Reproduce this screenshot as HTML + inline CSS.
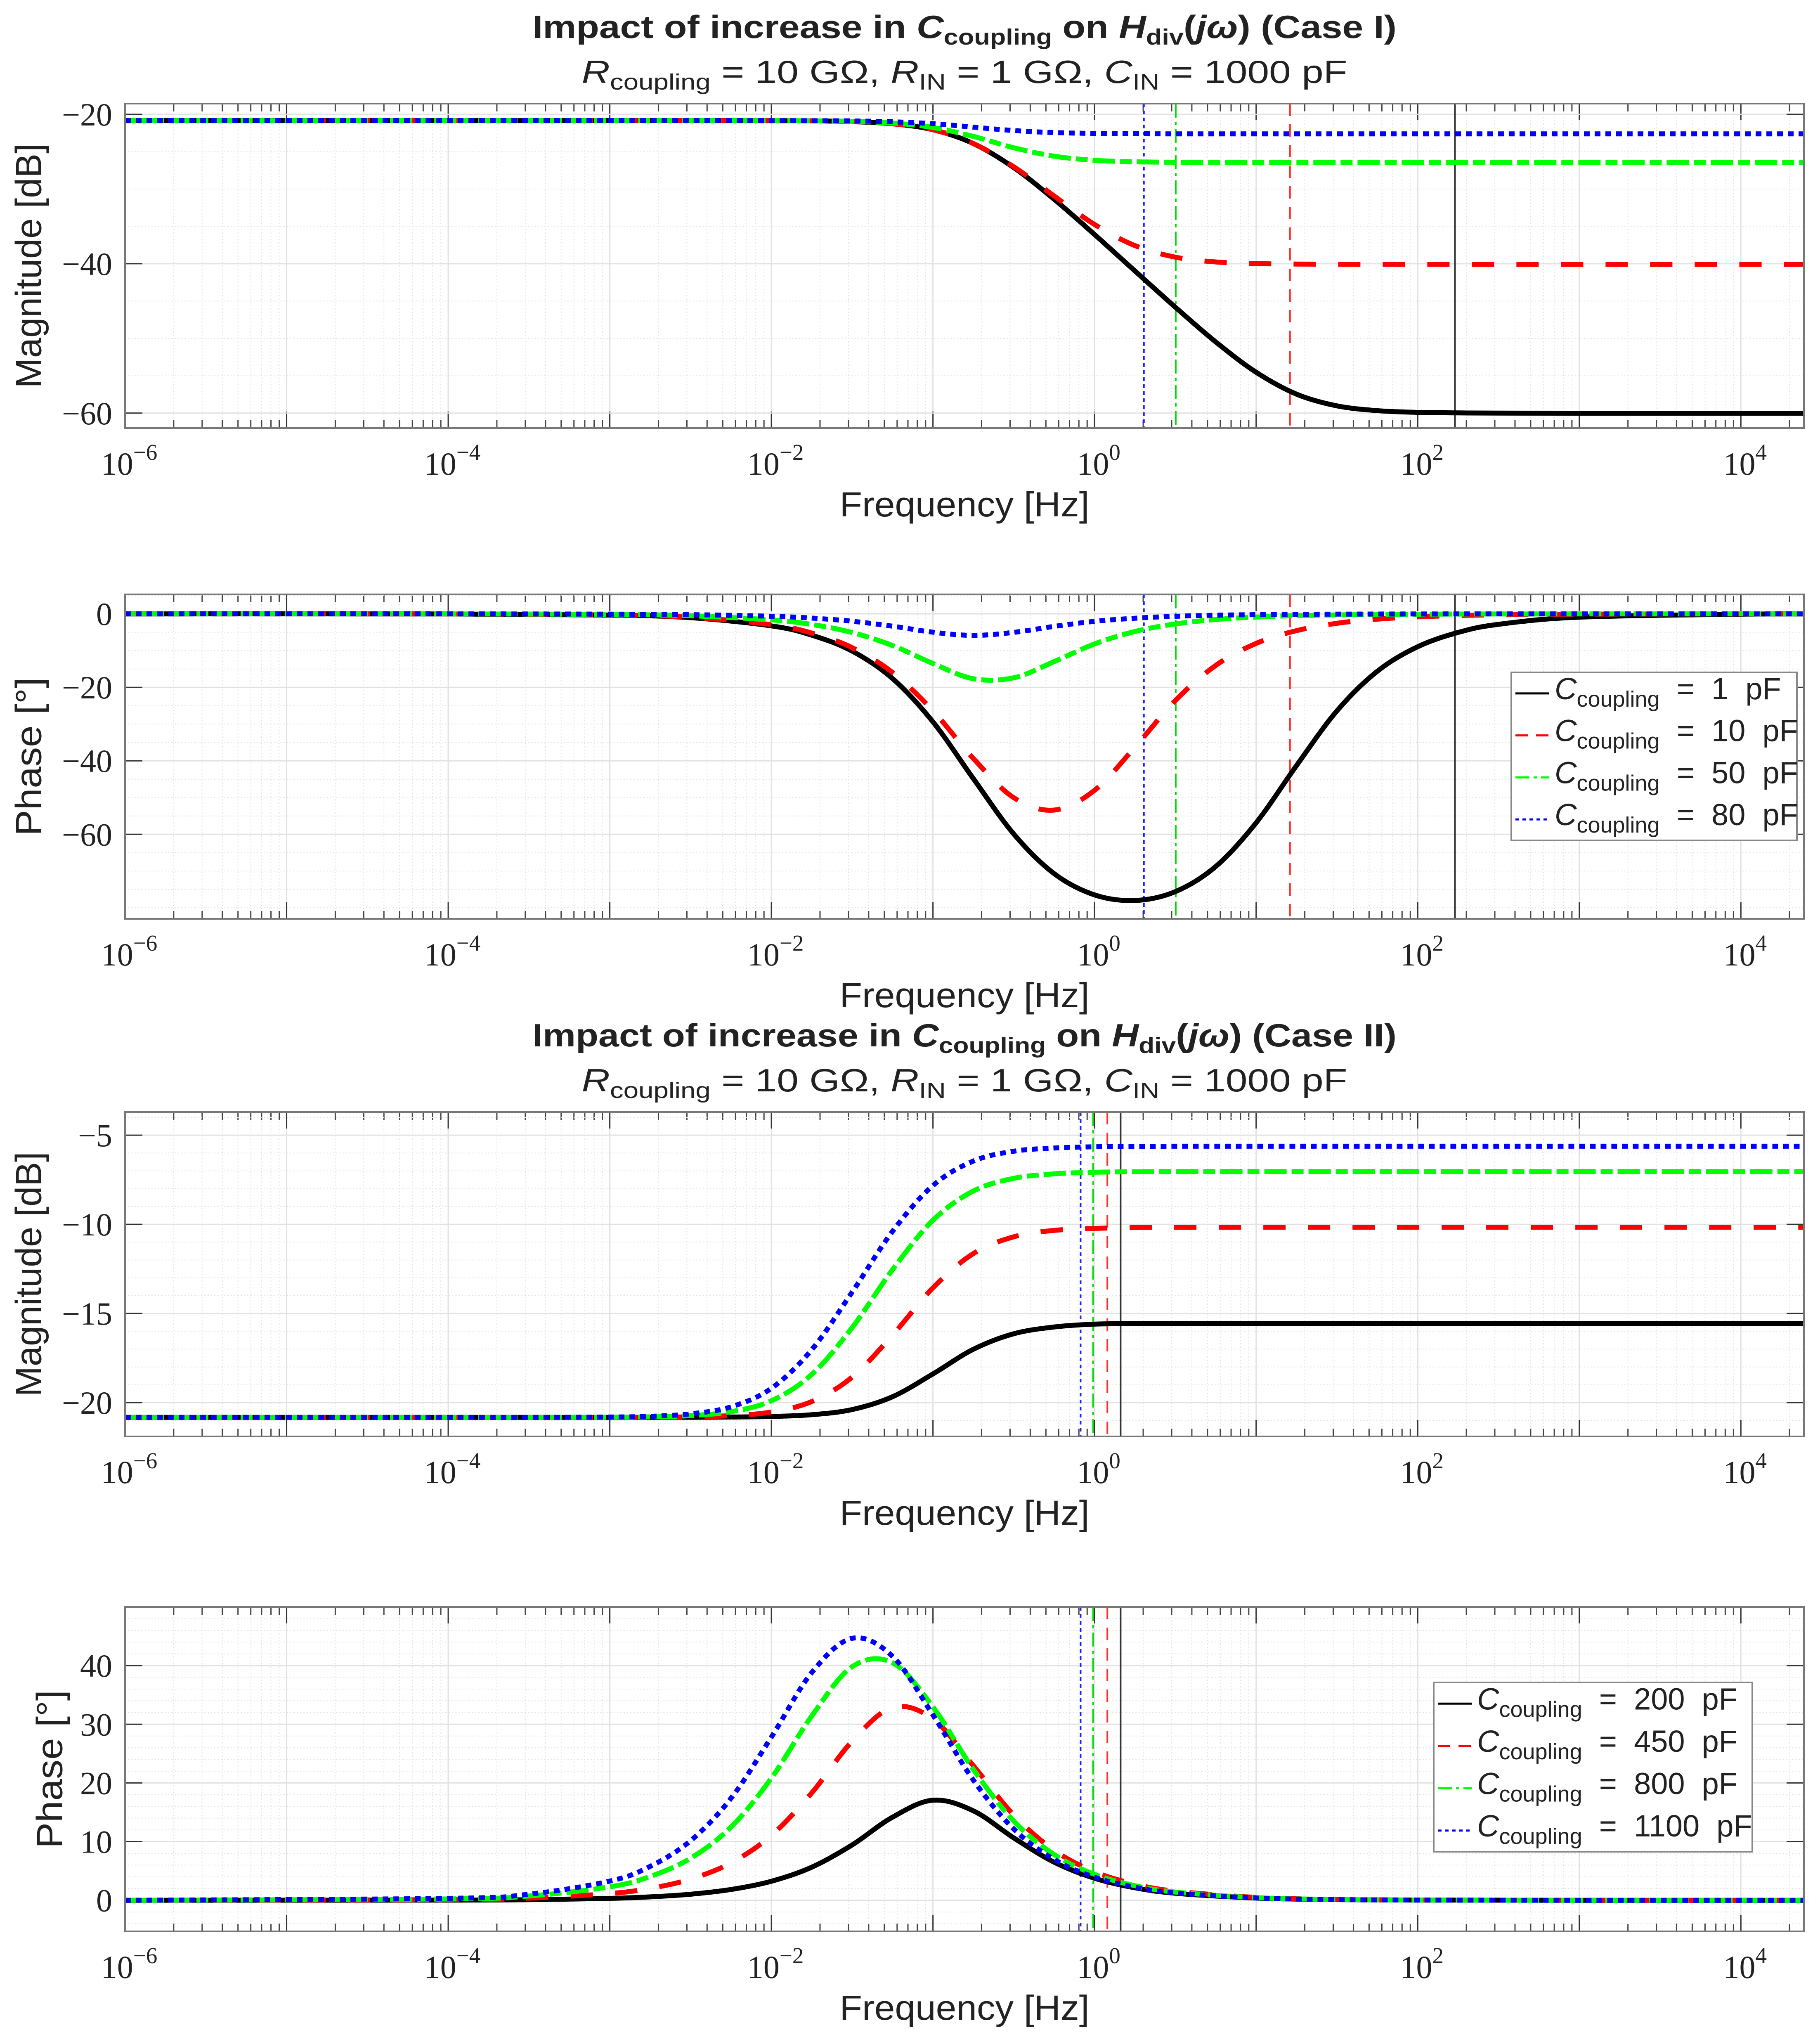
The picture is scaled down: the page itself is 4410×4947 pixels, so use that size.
<!DOCTYPE html>
<html><head><meta charset="utf-8">
<style>
html,body{margin:0;padding:0;background:#fff;}
svg{display:block;}
</style></head>
<body>
<svg id="fig" xmlns="http://www.w3.org/2000/svg" width="4410" height="4947" viewBox="0 0 4410 4947"></svg>
<script>
// ---------- DATA ----------
const LOGF_I = [-6,-4,-3,-2.5,-2,-1.75,-1.5,-1.25,-1,-0.75,-0.5,-0.25,0,0.25,0.5,0.75,1,1.25,1.5,1.75,2,2.25,2.5,3,4,4.39];
const MAG_I_1 = [-20.83,-20.83,-20.83,-20.83,-20.84,-20.87,-20.97,-21.26,-22.06,-23.91,-27.13,-31.37,-36.09,-40.97,-45.82,-50.47,-54.53,-57.46,-59.03,-59.67,-59.90,-59.97,-60.00,-60.01,-60.01,-60.01];
const MAG_I_10 = [-20.83,-20.83,-20.83,-20.83,-20.84,-20.87,-20.97,-21.26,-22.06,-23.90,-27.02,-30.93,-34.74,-37.57,-39.12,-39.76,-39.98,-40.04,-40.07,-40.08,-40.08,-40.09,-40.09,-40.09,-40.09,-40.09];
const MAG_I_50 = [-20.83,-20.83,-20.83,-20.83,-20.84,-20.87,-20.94,-21.16,-21.76,-22.95,-24.47,-25.60,-26.15,-26.35,-26.41,-26.44,-26.45,-26.45,-26.45,-26.45,-26.45,-26.45,-26.45,-26.45,-26.45,-26.45];
const MAG_I_80 = [-20.83,-20.83,-20.83,-20.83,-20.84,-20.85,-20.88,-20.99,-21.25,-21.71,-22.17,-22.44,-22.55,-22.59,-22.61,-22.61,-22.61,-22.61,-22.61,-22.61,-22.61,-22.61,-22.61,-22.61,-22.61,-22.61];
const PH_I_1 = [0,-0.03,-0.33,-1.04,-3.27,-5.81,-10.14,-17.62,-29.40,-44.84,-59.91,-70.70,-76.48,-78.0,-75.6,-68.76,-56.86,-41.28,-26.4,-15.62,-8.94,-5.06,-2.85,-0.9,-0.09,-0.04];
const PH_I_10 = [0,-0.03,-0.29,-0.93,-2.94,-5.21,-9.2,-15.95,-26.38,-39.35,-50.03,-53.40,-48.02,-36.27,-23.58,-14.03,-8.04,-4.56,-2.56,-1.44,-0.81,-0.46,-0.26,-0.08,-0.01,0];
const PH_I_50 = [0,-0.01,-0.16,-0.52,-1.63,-2.89,-5.07,-8.62,-13.51,-17.65,-17.39,-12.99,-8.18,-4.79,-2.73,-1.54,-0.87,-0.49,-0.28,-0.16,-0.09,-0.05,-0.03,-0.01,0,0];
const PH_I_80 = [0,0,-0.07,-0.21,-0.65,-1.15,-2.01,-3.35,-4.99,-5.86,-5.03,-3.41,-2.04,-1.18,-0.66,-0.37,-0.21,-0.12,-0.07,-0.04,-0.02,-0.01,0,0,0,0];
const VLINE_I = [170, 16.2, 3.18, 2.02];

const LOGF_II = [-6,-4,-3.5,-3,-2.75,-2.5,-2.25,-2,-1.75,-1.5,-1.25,-1,-0.75,-0.5,-0.25,0,0.25,0.5,1,1.5,2,3,4.39];
const MAG_II_200 = [-20.83,-20.83,-20.83,-20.83,-20.83,-20.825,-20.81,-20.78,-20.68,-20.39,-19.67,-18.39,-17.01,-16.14,-15.76,-15.60,-15.57,-15.56,-15.56,-15.56,-15.56,-15.56,-15.56];
const MAG_II_450 = [-20.83,-20.83,-20.83,-20.83,-20.82,-20.80,-20.73,-20.53,-19.94,-18.57,-16.21,-13.56,-11.64,-10.70,-10.34,-10.23,-10.18,-10.17,-10.16,-10.16,-10.16,-10.16,-10.16];
const MAG_II_800 = [-20.83,-20.83,-20.83,-20.82,-20.80,-20.73,-20.51,-19.90,-18.42,-15.79,-12.54,-9.77,-8.13,-7.42,-7.17,-7.08,-7.05,-7.04,-7.04,-7.04,-7.04,-7.04,-7.04];
const MAG_II_1100 = [-20.83,-20.83,-20.83,-20.81,-20.77,-20.63,-20.24,-19.20,-17.03,-13.80,-10.39,-7.82,-6.45,-5.90,-5.72,-5.65,-5.63,-5.62,-5.62,-5.62,-5.62,-5.62,-5.62];
const PH_II_200 = [0,0.03,0.10,0.33,0.58,1.03,1.84,3.24,5.64,9.44,14.17,17.06,15.25,10.63,6.49,3.75,2.13,1.2,0.38,0.12,0.04,0,0];
const PH_II_450 = [0,0.11,0.36,1.15,2.03,3.61,6.37,11.06,18.31,27.12,32.86,30.89,22.94,14.52,8.52,4.86,2.75,1.55,0.49,0.16,0.05,0,0];
const PH_II_800 = [0,0.23,0.73,2.29,4.06,7.17,12.47,20.82,31.42,39.82,40.48,32.96,22.30,13.50,7.79,4.42,2.49,1.40,0.44,0.14,0.04,0,0];
const PH_II_1100 = [0,0.33,1.04,3.27,5.78,10.16,17.38,27.81,38.82,44.65,41.57,31.58,20.48,12.15,6.96,3.93,2.22,1.25,0.39,0.12,0.04,0,0];
const VLINE_II = [1.45, 1.2, 0.98, 0.82];

const LEGEND_I = ["1", "10", "50", "80"];
const LEGEND_II = ["200", "450", "800", "1100"];
const X_TICK_EXP = [-6,-4,-2,0,2,4];

// ---------- LAYOUT ----------
const NS = "http://www.w3.org/2000/svg";
const svg = document.getElementById("fig");
const L = 303, R = 4371, H = 786;
const XMIN = -6, XMAX = 4.39;
const STYLES = [
  {c:"#000000", dash:null, vdash:null, vc:"#333333"},
  {c:"#ff0000", dash:"54 54", vdash:"30 20", vc:"#ff3030"},
  {c:"#00ff00", dash:"54 12 29 12", vdash:"34 10 8 10", vc:"#00dd00"},
  {c:"#0000ff", dash:"14 12", vdash:"9 8", vc:"#2020ff"}
];
const SERIES_NAMES = ["black","red","green","blue"];

function el(tag, attrs, parent) {
  const e = document.createElementNS(NS, tag);
  for (const k in attrs) e.setAttribute(k, attrs[k]);
  (parent || svg).appendChild(e);
  return e;
}
function xScale(f) { return L + (Math.log10(f) - XMIN) / (XMAX - XMIN) * (R - L); }
function xLog(lg) { return L + (lg - XMIN) / (XMAX - XMIN) * (R - L); }

function smoothPath(pts) {
  let d = "M" + pts[0][0].toFixed(1) + "," + pts[0][1].toFixed(1);
  for (let i = 0; i < pts.length - 1; i++) {
    const p0 = pts[Math.max(0, i - 1)], p1 = pts[i], p2 = pts[i + 1], p3 = pts[Math.min(pts.length - 1, i + 2)];
    const c1x = p1[0] + (p2[0] - p0[0]) / 6, c1y = p1[1] + (p2[1] - p0[1]) / 6;
    const c2x = p2[0] - (p3[0] - p1[0]) / 6, c2y = p2[1] - (p3[1] - p1[1]) / 6;
    d += "C" + c1x.toFixed(1) + "," + c1y.toFixed(1) + " " + c2x.toFixed(1) + "," + c2y.toFixed(1) + " " + p2[0].toFixed(1) + "," + p2[1].toFixed(1);
  }
  return d;
}

function panel(id, top, ymin, ymax, yMajor, yMinor, yTicks, ylabel, ylabelX, ylabelLen, logf, series, vlines) {
  const bottom = top + H;
  const yScale = v => bottom - (v - ymin) / (ymax - ymin) * H;
  const g = el("g", {});
  
  
  el("rect", {x:L, y:top, width:R-L, height:H, fill:"#fff"}, g);
  for (let d = -6; d <= 4; d++) {
    for (let m = 2; m <= 9; m++) {
      const lg = d + Math.log10(m);
      if (lg > XMAX) continue;
      const x = xLog(lg);
      el("line", {x1:x, y1:top, x2:x, y2:bottom, stroke:"#e4e4e4", "stroke-width":2, "stroke-dasharray":"3 5"}, g);
      el("line", {x1:x, y1:top, x2:x, y2:top+19, stroke:"#444", "stroke-width":3}, g);
      el("line", {x1:x, y1:bottom, x2:x, y2:bottom-19, stroke:"#444", "stroke-width":3}, g);
    }
  }
  for (let v = Math.ceil(ymin / yMinor) * yMinor; v <= ymax; v += yMinor) {
    const y = yScale(v);
    el("line", {x1:L, y1:y, x2:R, y2:y, stroke:"#e4e4e4", "stroke-width":2, "stroke-dasharray":"3 5"}, g);
  }
  for (let d = -6; d <= 4; d++) {
    const x = xLog(d);
    el("line", {x1:x, y1:top, x2:x, y2:bottom, stroke:"#e2e2e2", "stroke-width":3}, g);
    el("line", {x1:x, y1:top, x2:x, y2:top+40, stroke:"#333", "stroke-width":3}, g);
    el("line", {x1:x, y1:bottom, x2:x, y2:bottom-40, stroke:"#333", "stroke-width":3}, g);
  }
  yTicks.forEach(v => {
    const y = yScale(v);
    el("line", {x1:L, y1:y, x2:R, y2:y, stroke:"#e2e2e2", "stroke-width":3}, g);
    el("line", {x1:L, y1:y, x2:L+42, y2:y, stroke:"#333", "stroke-width":3}, g);
    el("line", {x1:R, y1:y, x2:R-42, y2:y, stroke:"#333", "stroke-width":3}, g);
    const t = el("text", {x:272, y:y+27, "text-anchor":"end", "font-family":"'Liberation Serif', serif", "font-size":78, fill:"#222"}, g);
    t.textContent = v < 0 ? "\u2212" + Math.abs(v) : String(v);
    
    
  });
  const cp = el("clipPath", {id:"clip-" + id}, g);
  el("rect", {x:L, y:top, width:R-L, height:H}, cp);
  const cg = el("g", {"clip-path":"url(#clip-" + id + ")"}, g);
  vlines.forEach((f, i) => {
    const x = xScale(f);
    const s = STYLES[i];
    const ln = el("line", {x1:x, y1:top, x2:x, y2:bottom, stroke:s.vc, "stroke-width":4}, cg);
    if (s.vdash) ln.setAttribute("stroke-dasharray", s.vdash);
    
    
  });
  series.forEach((vals, i) => {
    const pts = logf.map((lg, k) => [xLog(lg), yScale(vals[k])]);
    const s = STYLES[i];
    const p = el("path", {d:smoothPath(pts), fill:"none", stroke:s.c, "stroke-width":12, "stroke-linejoin":"round"}, cg);
    if (s.dash) p.setAttribute("stroke-dasharray", s.dash);
    
    
  });
  el("rect", {x:L, y:top, width:R-L, height:H, fill:"none", stroke:"#777", "stroke-width":4}, g);
  X_TICK_EXP.forEach(e => {
    const x = xLog(e);
    const t = el("text", {x:x + 10, y:bottom + 113, "text-anchor":"middle", "font-family":"'Liberation Serif', serif", "font-size":78, fill:"#222"}, g);
    
    
    const a = el("tspan", {}, t); a.textContent = "10";
    const b = el("tspan", {"font-size":55, dy:-36}, t); b.textContent = e < 0 ? "\u2212" + Math.abs(e) : String(e);
  });
  const xl = el("text", {x:2337, y:bottom + 214, "text-anchor":"middle", "font-family":"'Liberation Sans', sans-serif", "font-size":84, fill:"#222", textLength:605, lengthAdjust:"spacingAndGlyphs"}, g);
  xl.textContent = "Frequency [Hz]";
  
  
  const cy = top + H / 2;
  const yl = el("text", {x:ylabelX, y:cy, "text-anchor":"middle", "font-family":"'Liberation Sans', sans-serif", "font-size":88, fill:"#222", transform:"rotate(-90 " + ylabelX + " " + cy + ")", textLength:ylabelLen, lengthAdjust:"spacingAndGlyphs", "dominant-baseline":"central"}, g);
  yl.textContent = ylabel;
  
  
}

function titles(top, caseLabel) {
  const t = el("text", {x:2337, y:top - 159, "text-anchor":"middle", "font-family":"'Liberation Sans', sans-serif", "font-size":78, "font-weight":"bold", fill:"#222", textLength:2094, lengthAdjust:"spacingAndGlyphs"});
  
  
  t.innerHTML = 'Impact of increase in <tspan font-style="italic">C</tspan><tspan font-size="54" dy="16">coupling</tspan><tspan dy="-16"> on </tspan><tspan font-style="italic">H</tspan><tspan font-size="54" dy="16">div</tspan><tspan dy="-16">(</tspan><tspan font-style="italic">j\u03c9</tspan><tspan>) (Case ' + caseLabel + ')</tspan>';
  const s = el("text", {x:2337, y:top - 50, "text-anchor":"middle", "font-family":"'Liberation Sans', sans-serif", "font-size":78, fill:"#222", textLength:1855, lengthAdjust:"spacingAndGlyphs"});
  
  
  s.innerHTML = '<tspan font-style="italic">R</tspan><tspan font-size="54" dy="16">coupling</tspan><tspan dy="-16"> = 10 G\u03a9, </tspan><tspan font-style="italic">R</tspan><tspan font-size="54" dy="16">IN</tspan><tspan dy="-16"> = 1 G\u03a9, </tspan><tspan font-style="italic">C</tspan><tspan font-size="54" dy="16">IN</tspan><tspan dy="-16"> = 1000 pF</tspan>';
}

function legend(x, y, w, h, labels) {
  const g = el("g", {});
  
  
  el("rect", {x:x, y:y, width:w, height:h, fill:"#fff", stroke:"#888", "stroke-width":4}, g);
  const rowH = h / 4;
  labels.forEach((lab, i) => {
    const cy = y + rowH * (i + 0.5);
    const s = STYLES[i];
    const ln = el("line", {x1:x + 10, y1:cy, x2:x + 92, y2:cy, stroke:s.c, "stroke-width":5}, g);
    if (s.dash) ln.setAttribute("stroke-dasharray", s.vdash);
    
    
    const t = el("text", {x:x + 105, y:cy + 14, "font-family":"'Liberation Sans', sans-serif", "font-size":74, fill:"#222"}, g);
    
    
    t.innerHTML = '<tspan font-style="italic">C</tspan><tspan font-size="54" dy="18">coupling</tspan><tspan dy="-18">\u00a0 = \u00a0' + lab + '\u00a0 pF</tspan>';
  });
}

titles(251, "I");
panel("mag-case1", 251, -62.0, -18.56, 20, 5, [-20,-40,-60], "Magnitude [dB]", 69, 593, LOGF_I, [MAG_I_1, MAG_I_10, MAG_I_50, MAG_I_80], VLINE_I);
panel("phase-case1", 1440, -83, 5.3, 20, 5, [0,-20,-40,-60], "Phase [\u00b0]", 69, 384, LOGF_I, [PH_I_1, PH_I_10, PH_I_50, PH_I_80], VLINE_I);
legend(3662, 1629, 692, 407, LEGEND_I);
titles(2694, "II");
panel("mag-case2", 2694, -21.9, -3.7, 5, 1, [-5,-10,-15,-20], "Magnitude [dB]", 69, 593, LOGF_II, [MAG_II_200, MAG_II_450, MAG_II_800, MAG_II_1100], VLINE_II);
panel("phase-case2", 3893, -5.3, 50, 10, 2, [0,10,20,30,40], "Phase [\u00b0]", 120, 384, LOGF_II, [PH_II_200, PH_II_450, PH_II_800, PH_II_1100], VLINE_II);
legend(3474, 4076, 772, 410, LEGEND_II);
</script>
</body></html>
